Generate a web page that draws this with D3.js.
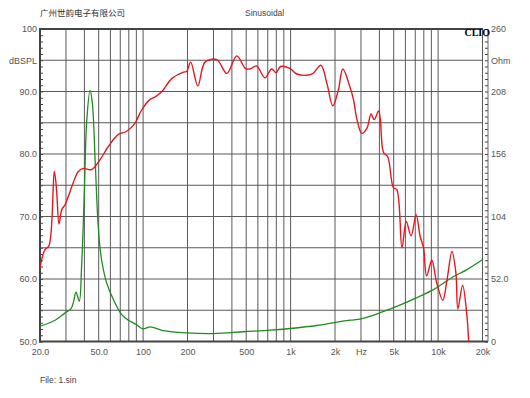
<!DOCTYPE html>
<html>
<head>
<meta charset="utf-8">
<script src="https://cdn.jsdelivr.net/npm/d3@7"></script>
<style>
  body { margin: 0; background: #fff; }
  svg { display: block; }
  text { font-family: "Liberation Sans", Arial, sans-serif; }
</style>
</head>
<body>
<div id="chart"></div>
<script>
// SPL response (Hz, dB)
const splFreq = [20, 21.6, 23, 25, 25.9, 26.9, 28.1, 29.6, 31.1, 33.6, 36.4, 39.3, 44.6, 51.1, 58.1, 67.7, 77, 88, 97.5, 111, 120, 134, 157, 188, 197, 210, 235, 263, 316, 369, 432, 493, 530, 587, 670, 744, 797, 855, 988, 1103, 1286, 1420, 1604, 1763, 1932, 2110, 2260, 2550, 2670, 2820, 3040, 3290, 3510, 3690, 3950, 4060, 4270, 4550, 4980, 5250, 5690, 6080, 6560, 7100, 7560, 7960, 8360, 9060, 9780, 10760, 11500, 12420, 13200, 13620, 14660, 15700, 16100, 16500];
const splDb = [61.8, 64.7, 65.3, 77.2, 74.3, 68.8, 71.1, 71.9, 73.2, 75.4, 77.2, 77.7, 77.5, 79.1, 81.2, 83.1, 83.6, 84.9, 87.0, 88.7, 89.1, 90.0, 92.1, 93.1, 93.2, 94.7, 90.9, 94.7, 95.1, 92.9, 95.7, 93.7, 93.6, 94.1, 92.2, 93.6, 93.0, 94.0, 93.7, 92.8, 92.6, 92.9, 94.2, 91.3, 87.7, 90.3, 93.6, 90.4, 88.7, 85.5, 83.3, 84.1, 86.4, 85.5, 86.9, 85.5, 80.2, 79.6, 74.6, 74.3, 65.0, 69.2, 66.9, 70.3, 66.8, 65.0, 60.5, 63.0, 59.4, 56.6, 59.9, 64.4, 61.0, 55.2, 59.0, 54.0, 50.3, 47];

// impedance (Hz, Ohm)
const impFreq = [20, 25.3, 29.6, 32.4, 33.6, 35.1, 36.9, 38.3, 40, 41.5, 43.7, 45.3, 47.4, 49.8, 52.3, 56.6, 62.9, 71.6, 80, 90, 100, 112, 137, 197, 299, 479, 728, 988, 1500, 2030, 2540, 3000, 4140, 5600, 9300, 12600, 15700, 20800];
const impOhm = [12.7, 17.7, 23.8, 27.2, 32.1, 41.0, 33.5, 62.5, 126, 184, 209, 198, 148, 93, 68, 48.8, 34.9, 22.4, 17.5, 14.1, 10.5, 12.2, 9.1, 7.2, 6.6, 8.1, 9.4, 10.8, 13.3, 16.0, 17.7, 18.8, 24.4, 30.7, 43.2, 53.7, 59.8, 69.5];

const gridFreqs = [20, 30, 40, 50, 60, 70, 80, 90, 100, 200, 300, 400, 500, 600, 700, 800, 900, 1000, 2000, 3000, 4000, 5000, 6000, 7000, 8000, 9000, 10000, 20000];
const gridDb = [55, 60, 65, 70, 75, 80, 85, 90, 95];

const xTicks = [20, 50, 100, 200, 500, 1000, 2000, 3000, 5000, 10000, 20000];
const xTickLabels = ['20.0', '50.0', '100', '200', '500', '1k', '2k', 'Hz', '5k', '10k', '20k'];
const leftTicks = [50, 60, 70, 80, 90, 95, 100];
const leftTickLabels = ['50.0', '60.0', '70.0', '80.0', '90.0', 'dBSPL', '100'];
const rightTicks = [0, 52, 104, 156, 208, 234, 260];
const rightTickLabels = ['0', '52.0', '104', '156', '208', 'Ohm', '260'];

const width = 530;
const height = 398;
const plotL = 40, plotR = 482.5, plotT = 29, plotB = 341.5, axisR = 488;

const svg = d3.select('#chart')
  .append('svg')
  .attr('width', width)
  .attr('height', height);

const x = d3.scaleLog().domain([20, 20000]).range([plotL, plotR]);
const y = d3.scaleLinear().domain([50, 100]).range([plotB, plotT]);
const yOhm = d3.scaleLinear().domain([0, 260]).range([plotB, plotT]);

svg.append('defs').append('clipPath')
  .attr('id', 'plot-clip')
  .append('rect')
  .attr('x', plotL)
  .attr('y', plotT)
  .attr('width', plotR - plotL)
  .attr('height', plotB - plotT);

// grid
svg.append('g').selectAll('line')
  .data(gridFreqs)
  .enter()
  .append('line')
  .attr('x1', d => x(d))
  .attr('x2', d => x(d))
  .attr('y1', plotT)
  .attr('y2', plotB)
  .attr('stroke', '#5a5a5a')
  .attr('stroke-width', 1);

svg.append('g').selectAll('line')
  .data(gridDb)
  .enter()
  .append('line')
  .attr('x1', plotL)
  .attr('x2', plotR)
  .attr('y1', d => y(d))
  .attr('y2', d => y(d))
  .attr('stroke', '#5a5a5a')
  .attr('stroke-width', 1);

// axes
function styleAxis(g) {
  g.select('.domain').remove();
  g.selectAll('text')
    .attr('fill', '#555')
    .style('font-size', '9px')
    .style('font-family', '"Liberation Sans", Arial, sans-serif');
}

const minorDb = d3.range(50, 101, 1);

svg.append('g')
  .attr('transform', `translate(${plotL},0)`)
  .call(d3.axisLeft(y).tickValues(minorDb).tickSize(-3).tickFormat(''))
  .call(g => g.select('.domain').remove())
  .call(g => g.selectAll('line').attr('stroke', '#444'));

svg.append('g')
  .attr('transform', `translate(${plotL},0)`)
  .call(d3.axisLeft(y).tickValues(leftTicks).tickSize(0).tickPadding(3)
    .tickFormat((d, i) => leftTickLabels[i]))
  .call(styleAxis);

svg.append('g')
  .attr('transform', `translate(${axisR},0)`)
  .call(d3.axisRight(yOhm).tickValues(minorDb.map(d => (d - 50) * 5.2)).tickSize(-3).tickFormat(''))
  .call(g => g.select('.domain').remove())
  .call(g => g.selectAll('line').attr('stroke', '#444'));

svg.append('g')
  .attr('transform', `translate(${axisR},0)`)
  .call(d3.axisRight(yOhm).tickValues(rightTicks).tickSize(0).tickPadding(3)
    .tickFormat((d, i) => rightTickLabels[i]))
  .call(styleAxis);

svg.append('g')
  .attr('transform', `translate(0,${plotB})`)
  .call(d3.axisBottom(x).tickValues(xTicks).tickSize(0).tickPadding(7)
    .tickFormat((d, i) => xTickLabels[i]))
  .call(styleAxis);

// frame
svg.append('line')
  .attr('x1', plotL).attr('x2', plotR + 0.5)
  .attr('y1', plotT).attr('y2', plotT)
  .attr('stroke', '#444').attr('stroke-width', 2);
svg.append('line')
  .attr('x1', plotL).attr('x2', plotL)
  .attr('y1', plotT - 1).attr('y2', plotB + 1)
  .attr('stroke', '#444').attr('stroke-width', 2);
svg.append('line')
  .attr('x1', plotL - 1).attr('x2', axisR)
  .attr('y1', plotB).attr('y2', plotB)
  .attr('stroke', '#444').attr('stroke-width', 2);
svg.append('line')
  .attr('x1', axisR).attr('x2', axisR)
  .attr('y1', plotT).attr('y2', plotB)
  .attr('stroke', '#666').attr('stroke-width', 1);

// curves
const plot = svg.append('g').attr('clip-path', 'url(#plot-clip)');

const splLine = d3.line()
  .x(d => x(d[0]))
  .y(d => y(d[1]))
  .curve(d3.curveCatmullRom.alpha(0.5));

const impLine = d3.line()
  .x(d => x(d[0]))
  .y(d => yOhm(d[1]))
  .curve(d3.curveCatmullRom.alpha(0.5));

plot.append('path')
  .datum(impFreq.map((f, i) => [f, impOhm[i]]))
  .attr('d', impLine)
  .attr('fill', 'none')
  .attr('stroke', '#1e8c1e')
  .attr('stroke-width', 1.3);

plot.append('path')
  .datum(splFreq.map((f, i) => [f, splDb[i]]))
  .attr('d', splLine)
  .attr('fill', 'none')
  .attr('stroke', '#e8161c')
  .attr('stroke-width', 1.4);

// texts
svg.append('text')
  .attr('x', 40).attr('y', 16)
  .attr('fill', '#333')
  .style('font-size', '8.5px')
  .style('font-family', '"Noto Sans CJK SC", sans-serif')
  .text('广州世韵电子有限公司');

svg.append('text')
  .attr('x', 245).attr('y', 16)
  .attr('fill', '#444')
  .style('font-size', '8.5px')
  .text('Sinusoidal');

svg.append('text')
  .attr('x', 490).attr('y', 36)
  .attr('text-anchor', 'end')
  .attr('fill', '#000')
  .style('font-size', '10px')
  .style('font-weight', 'bold')
  .style('font-family', '"Liberation Serif", "Times New Roman", serif')
  .text('CLIO');

svg.append('text')
  .attr('x', 40).attr('y', 383)
  .attr('fill', '#444')
  .style('font-size', '8.5px')
  .text('File: 1.sin');
</script>
</body>
</html>
